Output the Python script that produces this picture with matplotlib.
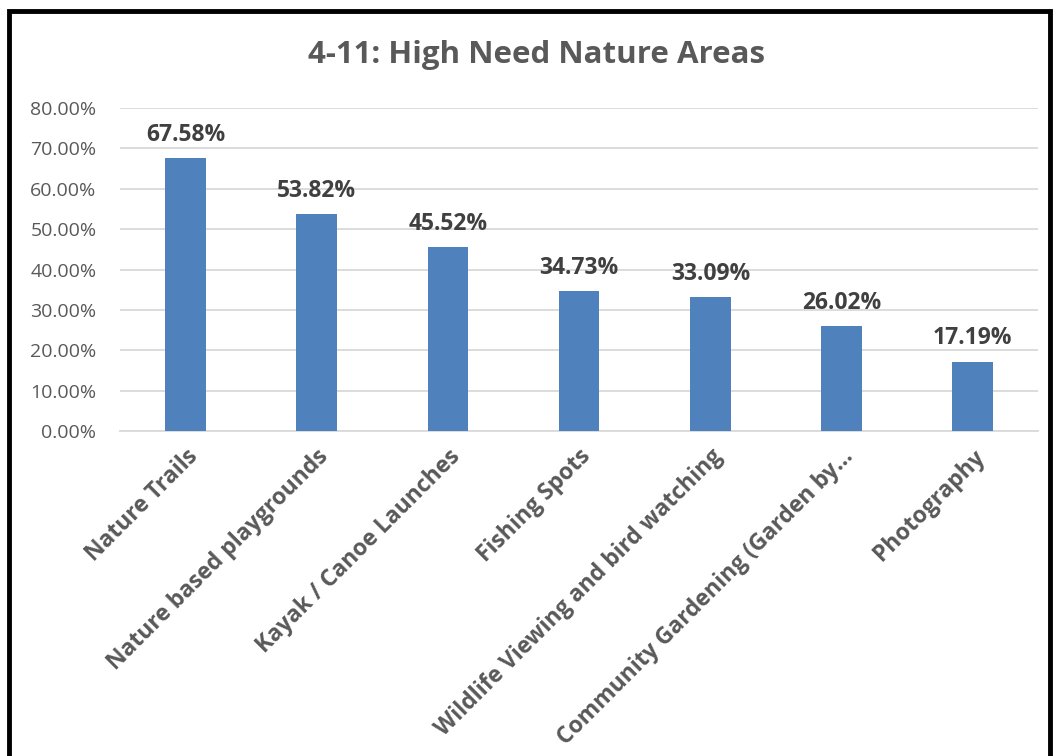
import matplotlib
matplotlib.use("Agg")
import matplotlib.pyplot as plt
from matplotlib.patches import Rectangle
from matplotlib.ticker import FuncFormatter

categories = [
    "Nature Trails",
    "Nature based playgrounds",
    "Kayak / Canoe Launches",
    "Fishing Spots",
    "Wildlife Viewing and bird watching",
    "Community Gardening (Garden by\u2026",
    "Photography",
]
values = [67.58, 53.82, 45.52, 34.73, 33.09, 26.02, 17.19]
y_ticks = [0, 10, 20, 30, 40, 50, 60, 70, 80]

TEXT = "#595959"
BAR = "#4F81BD"
GRID = "#D9D9D9"

plt.rcParams["font.family"] = ["Open Sans", "DejaVu Sans"]

fig = plt.figure(figsize=(10.53, 7.56), dpi=100)
ax = fig.add_axes([0.114, 0.43, 0.872, 0.427])

x = range(len(categories))
ax.bar(x, values, width=0.31, color=BAR, zorder=3)

for xi, v in zip(x, values):
    ax.annotate(f"{v:.2f}%", (xi, v), xytext=(0, 8), textcoords="offset points",
                ha="center", va="bottom", fontsize=16.5, fontweight="bold", color="#404040")

ax.set_xlim(-0.5, len(categories) - 0.5)
ax.set_ylim(0, 80)
ax.set_yticks(y_ticks)
ax.yaxis.set_major_formatter(FuncFormatter(lambda y, _: f"{y:.2f}%"))
ax.grid(axis="y", color=GRID, linewidth=1.3, zorder=0)
for side in ("top", "right", "left"):
    ax.spines[side].set_visible(False)
ax.spines["bottom"].set_color(GRID)
ax.spines["bottom"].set_linewidth(1.3)
ax.tick_params(axis="y", length=0, pad=17, labelsize=14, labelcolor=TEXT)
ax.tick_params(axis="x", length=0, pad=10)

ax.set_xticks(list(x))
ax.set_xticklabels(categories, rotation=45, ha="right", rotation_mode="anchor",
                   fontsize=16.5, fontweight="bold", color=TEXT)

fig.text(0.51, 0.927, "4-11: High Need Nature Areas", ha="center", va="center",
         fontsize=22.5, fontweight="bold", color=TEXT)

# outer frame, bottom edge cut off like the screenshot
fig.patches.append(Rectangle((0.0085, -0.05), 0.989, 1.035, transform=fig.transFigure,
                             fill=False, edgecolor="black", linewidth=3.5))

fig.savefig("out.png", dpi=100)
